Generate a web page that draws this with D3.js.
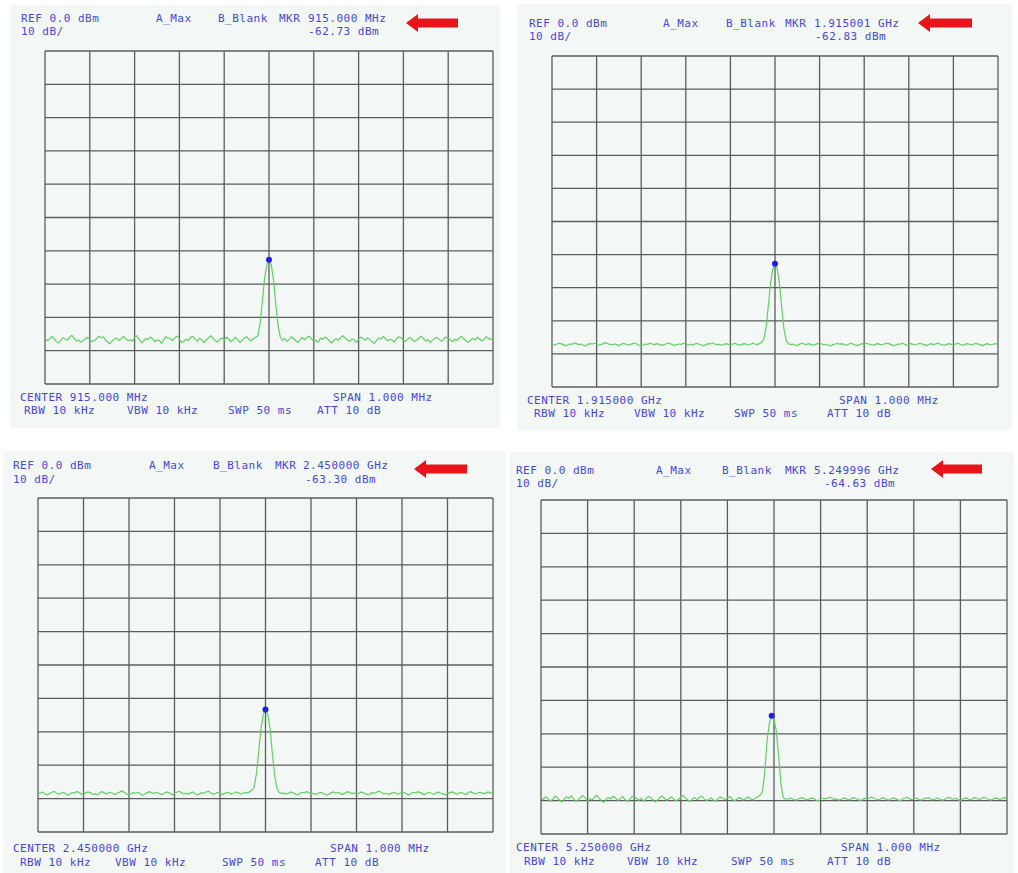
<!DOCTYPE html>
<html>
<head>
<meta charset="utf-8">
<script src="https://cdn.jsdelivr.net/npm/d3@7/dist/d3.min.js"></script>
<style>
  body { margin: 0; background: #fff; }
  svg text { font-family: "DejaVu Sans Mono", monospace; font-size: 11px; letter-spacing: 0.5px; fill: #4646e0; }
</style>
</head>
<body>
<div class="chart"></div>
<script>
// sweep: 201 points, 5 kHz apart, -500 .. +500 kHz around center
const sweepStartKHz = -500;
const sweepStepKHz = 5;

const freqDivsKHz = [-500, -400, -300, -200, -100, 0, 100, 200, 300, 400, 500];
const levelDivsDb = [0, -10, -20, -30, -40, -50, -60, -70, -80, -90, -100];

const centerFreqs = ["915.000 MHz", "1.915000 GHz", "2.450000 GHz", "5.250000 GHz"];
const markerFreqs = ["915.000 MHz", "1.915001 GHz", "2.450000 GHz", "5.249996 GHz"];
const markerLevels = ["-62.73 dBm", "-62.83 dBm", "-63.30 dBm", "-64.63 dBm"];

// traces in dBm
const trace915MHz = [
  -86.3,-87.0,-86.5,-85.7,-86.4,-87.2,-87.7,-86.9,-86.1,-86.5,-86.8,-85.9,-85.4,-86.2,-87.1,-86.8,-87.5,-87.0,-86.3,-86.0,
  -86.7,-87.3,-86.9,-86.4,-85.6,-86.1,-85.8,-86.8,-87.4,-87.9,-87.1,-86.5,-86.2,-86.9,-86.4,-85.7,-86.3,-87.0,-86.7,-87.2,
  -86.0,-85.5,-86.6,-87.6,-87.1,-86.3,-86.6,-85.9,-86.4,-87.3,-86.8,-86.9,-87.8,-86.7,-85.8,-86.2,-86.5,-87.0,-86.1,-85.6,
  -86.4,-87.5,-87.2,-86.5,-86.9,-86.0,-85.7,-86.6,-87.1,-86.3,-86.7,-87.6,-86.8,-86.1,-85.5,-86.3,-87.0,-87.4,-86.6,-86.2,
  -86.8,-85.9,-86.5,-87.3,-86.7,-86.0,-86.6,-87.5,-86.9,-86.2,-85.8,-86.6,-87.1,-86.4,-86.0,
  -85.6,-82.0,-75.5,-68.4,-64.3,-62.7,-64.2,-68.6,-75.8,-82.3,-85.8,
  -86.9,-86.3,-87.2,-86.6,-85.8,-86.4,-87.0,-87.6,-86.5,-86.1,
  -86.7,-86.0,-85.6,-86.5,-87.3,-86.9,-87.4,-86.2,-86.6,-85.9,
  -86.3,-87.1,-87.7,-86.8,-86.4,-86.9,-86.0,-85.5,-86.2,-86.8,
  -87.2,-86.5,-86.7,-87.5,-86.6,-85.9,-86.3,-86.9,-86.1,-86.6,
  -87.3,-87.8,-86.9,-86.2,-86.5,-85.7,-86.4,-87.0,-86.6,-86.8,
  -87.4,-86.3,-85.8,-86.1,-86.9,-87.2,-86.5,-86.0,-86.7,-87.3,
  -86.8,-86.2,-85.6,-86.4,-87.1,-86.7,-87.6,-86.9,-86.3,-86.0,
  -86.6,-87.2,-86.5,-85.9,-86.2,-86.8,-87.3,-86.6,-86.9,-86.1,
  -85.7,-86.5,-87.0,-87.5,-86.7,-86.3,-86.8,-86.0,-86.4,-87.1,
  -86.6,-85.8,-86.3,-86.7,-86.1
];
const trace1915MHz = [
  -87.0,-87.3,-87.1,-86.8,-86.9,-87.2,-87.5,-87.3,-87.0,-87.1,-86.7,-86.9,-87.2,-87.0,-87.4,-87.6,-87.2,-86.9,-87.0,-86.8,
  -87.1,-87.4,-87.2,-86.9,-86.6,-86.9,-87.1,-87.3,-87.0,-87.2,-87.5,-87.1,-86.8,-87.0,-87.3,-87.2,-86.9,-86.7,-87.0,-87.4,
  -87.6,-87.3,-87.0,-87.1,-86.8,-87.0,-87.2,-86.9,-87.1,-87.4,-87.3,-87.0,-86.7,-86.9,-87.2,-87.5,-87.2,-87.0,-87.1,-86.8,
  -86.9,-87.3,-87.1,-87.4,-87.0,-86.8,-87.1,-87.3,-87.6,-87.2,-86.9,-87.0,-86.7,-87.0,-87.2,-87.1,-87.4,-87.2,-86.9,-87.1,
  -87.3,-87.0,-86.8,-87.1,-87.4,-87.2,-86.9,-87.0,-87.3,-87.1,-86.8,-87.0,-87.2,-86.9,-86.5,
  -85.5,-82.0,-75.6,-68.6,-64.4,-62.8,-64.3,-68.7,-75.9,-82.4,-85.9,
  -86.9,-87.2,-87.0,-87.3,-87.5,-87.1,-86.8,-87.0,-87.2,-86.9,
  -87.1,-87.4,-87.2,-86.9,-86.7,-87.0,-87.3,-87.1,-87.4,-87.6,
  -87.2,-87.0,-86.8,-87.1,-86.9,-87.2,-87.4,-87.1,-86.8,-87.0,
  -87.3,-87.5,-87.2,-86.9,-87.1,-86.8,-87.0,-87.2,-87.4,-87.1,
  -86.9,-87.1,-87.3,-87.0,-86.7,-86.9,-87.2,-87.5,-87.3,-87.0,
  -87.1,-86.8,-87.0,-87.4,-87.2,-86.9,-87.1,-87.3,-87.0,-86.8,
  -87.0,-87.2,-87.5,-87.1,-86.9,-87.2,-87.0,-86.7,-87.0,-87.3,
  -87.4,-87.1,-86.9,-87.1,-87.3,-87.0,-86.8,-87.1,-87.4,-87.2,
  -86.9,-87.0,-87.3,-87.1,-86.8,-87.0,-87.2,-87.5,-87.2,-86.9,
  -87.1,-87.3,-87.0,-86.9,-87.1
];
const trace2450MHz = [
  -88.1,-88.4,-88.0,-88.6,-88.9,-88.5,-88.2,-87.8,-88.3,-88.7,-88.4,-88.1,-88.5,-89.0,-88.6,-88.2,-88.4,-87.9,-88.1,-88.6,
  -88.8,-88.3,-88.0,-88.2,-88.7,-88.5,-88.9,-88.4,-87.9,-88.2,-88.6,-88.3,-88.1,-88.5,-88.8,-88.4,-88.0,-87.7,-88.2,-88.6,
  -88.9,-88.5,-88.2,-88.4,-88.1,-88.6,-89.0,-88.7,-88.2,-87.9,-88.3,-88.5,-88.1,-88.4,-88.8,-88.6,-88.2,-88.0,-88.4,-88.9,
  -88.5,-88.1,-87.8,-88.2,-88.6,-88.4,-88.7,-88.3,-88.0,-88.5,-88.9,-88.6,-88.2,-88.4,-88.0,-87.8,-88.3,-88.7,-88.5,-88.1,
  -88.4,-88.8,-88.5,-88.1,-88.3,-88.7,-88.4,-88.0,-88.2,-88.6,-88.5,-88.1,-88.3,-88.0,-87.5,
  -86.6,-82.6,-76.0,-69.1,-64.9,-63.3,-64.8,-69.2,-76.3,-82.9,-86.9,
  -88.1,-88.5,-88.3,-88.7,-88.4,-88.0,-88.2,-88.6,-88.9,-88.5,
  -88.1,-88.3,-87.9,-88.2,-88.6,-88.4,-88.8,-88.5,-88.1,-88.3,
  -88.7,-89.0,-88.6,-88.2,-88.0,-88.4,-88.1,-88.5,-88.8,-88.3,
  -87.9,-88.2,-88.5,-88.3,-88.7,-88.4,-88.0,-88.3,-88.6,-88.9,
  -88.5,-88.2,-88.4,-88.0,-87.8,-88.2,-88.6,-88.4,-88.8,-88.5,
  -88.1,-88.3,-88.7,-88.4,-88.0,-88.2,-88.6,-88.9,-88.4,-88.1,
  -88.3,-87.9,-88.2,-88.5,-88.8,-88.4,-88.1,-88.4,-88.7,-88.3,
  -88.0,-88.4,-88.6,-88.9,-88.5,-88.2,-88.0,-88.3,-88.7,-88.4,
  -88.1,-88.5,-88.8,-88.3,-87.9,-88.2,-88.6,-88.4,-88.1,-88.3,
  -88.6,-88.2,-88.0,-88.4,-88.2
];
const trace5250MHz = [
  -89.0,-89.7,-88.8,-89.4,-90.2,-89.6,-88.7,-89.1,-89.9,-90.4,-89.5,-88.9,-89.3,-88.6,-89.5,-90.3,-89.8,-89.0,-88.5,-89.2,
  -90.0,-89.4,-89.8,-88.9,-88.4,-89.3,-90.1,-90.5,-89.6,-89.1,-89.5,-88.7,-89.2,-90.0,-89.4,-88.8,-89.6,-90.3,-89.7,-88.9,
  -88.6,-89.4,-89.9,-89.3,-90.2,-89.5,-88.8,-89.0,-89.7,-90.4,-89.8,-89.1,-88.6,-89.3,-89.9,-89.4,-88.9,-89.5,-90.1,-89.6,
  -89.0,-88.5,-89.2,-89.8,-90.3,-89.5,-89.1,-89.7,-89.0,-88.7,-89.4,-90.0,-89.6,-89.2,-89.8,-90.2,-89.4,-88.9,-89.3,-89.7,
  -89.2,-88.8,-89.5,-90.1,-89.6,-89.1,-89.4,-89.9,-89.3,-88.9,-89.5,-89.8,-89.2,-88.9,-88.4,
  -87.4,-81.8,-72.3,-66.8,-64.6,-65.7,-69.2,-76.6,-85.2,-89.1,-89.6,
  -89.6,-89.2,-89.5,-89.9,-89.7,-89.3,-89.1,-89.4,-89.8,-89.5,
  -89.2,-89.4,-89.9,-90.0,-89.6,-89.3,-89.5,-89.2,-89.0,-89.4,
  -89.7,-89.5,-89.9,-89.6,-89.2,-89.4,-89.8,-89.5,-89.1,-89.3,
  -89.6,-90.0,-89.7,-89.3,-89.5,-89.2,-88.9,-89.3,-89.6,-89.8,
  -89.4,-89.1,-89.5,-89.9,-89.6,-89.2,-89.4,-89.7,-90.1,-89.6,
  -89.3,-89.0,-89.4,-89.7,-89.5,-89.2,-89.6,-89.9,-89.5,-89.3,
  -89.1,-89.4,-89.8,-89.6,-89.2,-89.5,-89.9,-89.7,-89.3,-89.0,
  -89.4,-89.6,-89.3,-89.7,-90.0,-89.5,-89.2,-89.4,-89.8,-89.5,
  -89.1,-89.3,-89.7,-89.4,-89.0,-89.3,-89.6,-89.9,-89.5,-89.2,
  -89.4,-89.7,-89.3,-89.1,-89.4
];
const traces = [trace915MHz, trace1915MHz, trace2450MHz, trace5250MHz];

// where each screenshot sits on the page
const panels = [
  { bg: [10, 5, 500, 428], grid: [45, 51, 493, 384], refX: 21, hy: [22, 35], aMaxX: 156, bBlankX: 218, mkrX: 279, freqX: 308, lvlX: 308,
    arrow: [406, 458, 23], cenX: 20, spanX: 333, fy: [401, 414], rbwX: 24, vbwX: 127, swpX: 228, attX: 317 },
  { bg: [517, 4, 1012, 430], grid: [552, 56, 998, 387], refX: 529, hy: [27, 40], aMaxX: 663, bBlankX: 726, mkrX: 785, freqX: 814, lvlX: 815,
    arrow: [918, 972, 23], cenX: 527, spanX: 839, fy: [404, 417], rbwX: 534, vbwX: 634, swpX: 734, attX: 827 },
  { bg: [3, 451, 505, 873], grid: [38, 498, 493, 832], refX: 13, hy: [469, 483], aMaxX: 149, bBlankX: 213, mkrX: 275, freqX: 303, lvlX: 305,
    arrow: [414, 467, 469], cenX: 13, spanX: 330, fy: [852, 866], rbwX: 20, vbwX: 115, swpX: 222, attX: 315 },
  { bg: [510, 452, 1014, 873], grid: [541, 500, 1007, 834], refX: 516, hy: [474, 487], aMaxX: 656, bBlankX: 722, mkrX: 785, freqX: 814, lvlX: 824,
    arrow: [931, 982, 469], cenX: 516, spanX: 841, fy: [851, 865], rbwX: 524, vbwX: 627, swpX: 731, attX: 827 }
];

const svg = d3.select(".chart").append("svg").attr("width", 1018).attr("height", 873);

panels.forEach(function (p, k) {
  const g = svg.append("g");
  const x = d3.scaleLinear().domain([-500, 500]).range([p.grid[0], p.grid[2]]);
  const y = d3.scaleLinear().domain([0, -100]).range([p.grid[1], p.grid[3]]);

  g.append("rect")
    .attr("x", p.bg[0]).attr("y", p.bg[1])
    .attr("width", p.bg[2] - p.bg[0]).attr("height", p.bg[3] - p.bg[1])
    .attr("fill", "#f3f8f6");

  // graticule
  g.selectAll(".vline").data(freqDivsKHz).enter().append("line")
    .attr("x1", d => x(d)).attr("x2", d => x(d))
    .attr("y1", y(0)).attr("y2", y(-100))
    .attr("stroke", "#5c5c5c").attr("stroke-width", 1.3);
  g.selectAll(".hline").data(levelDivsDb).enter().append("line")
    .attr("x1", x(-500)).attr("x2", x(500))
    .attr("y1", d => y(d)).attr("y2", d => y(d))
    .attr("stroke", "#5c5c5c").attr("stroke-width", 1.3);

  // trace
  const trace = traces[k];
  const line = d3.line()
    .x((d, i) => x(sweepStartKHz + i * sweepStepKHz))
    .y(d => y(d));
  g.append("path").datum(trace)
    .attr("d", line)
    .attr("fill", "none")
    .attr("stroke", "#62cf62")
    .attr("stroke-width", 1.2)
    .attr("stroke-linejoin", "round");

  // marker on the highest point
  const pk = d3.maxIndex(trace);
  g.append("circle")
    .attr("cx", x(sweepStartKHz + pk * sweepStepKHz))
    .attr("cy", y(trace[pk]))
    .attr("r", 3)
    .attr("fill", "#1f1fe6");

  // header
  g.append("text").attr("x", p.refX).attr("y", p.hy[0]).text("REF 0.0 dBm");
  g.append("text").attr("x", p.refX).attr("y", p.hy[1]).text("10 dB/");
  g.append("text").attr("x", p.aMaxX).attr("y", p.hy[0]).text("A_Max");
  g.append("text").attr("x", p.bBlankX).attr("y", p.hy[0]).text("B_Blank");
  g.append("text").attr("x", p.mkrX).attr("y", p.hy[0]).text("MKR");
  g.append("text").attr("x", p.freqX).attr("y", p.hy[0]).text(markerFreqs[k]);
  g.append("text").attr("x", p.lvlX).attr("y", p.hy[1]).text(markerLevels[k]);

  // red arrow pointing at the marker readout
  const a = p.arrow;
  g.append("polygon")
    .attr("points", [
      [a[0], a[2]], [a[0] + 12, a[2] - 9], [a[0] + 12, a[2] - 4.5], [a[1], a[2] - 4.5],
      [a[1], a[2] + 4.5], [a[0] + 12, a[2] + 4.5], [a[0] + 12, a[2] + 9]
    ].join(" "))
    .attr("fill", "#e8141c");

  // footer
  g.append("text").attr("x", p.cenX).attr("y", p.fy[0]).text("CENTER " + centerFreqs[k]);
  g.append("text").attr("x", p.spanX).attr("y", p.fy[0]).text("SPAN 1.000 MHz");
  g.append("text").attr("x", p.rbwX).attr("y", p.fy[1]).text("RBW 10 kHz");
  g.append("text").attr("x", p.vbwX).attr("y", p.fy[1]).text("VBW 10 kHz");
  g.append("text").attr("x", p.swpX).attr("y", p.fy[1]).text("SWP 50 ms");
  g.append("text").attr("x", p.attX).attr("y", p.fy[1]).text("ATT 10 dB");
});
</script>
</body>
</html>
